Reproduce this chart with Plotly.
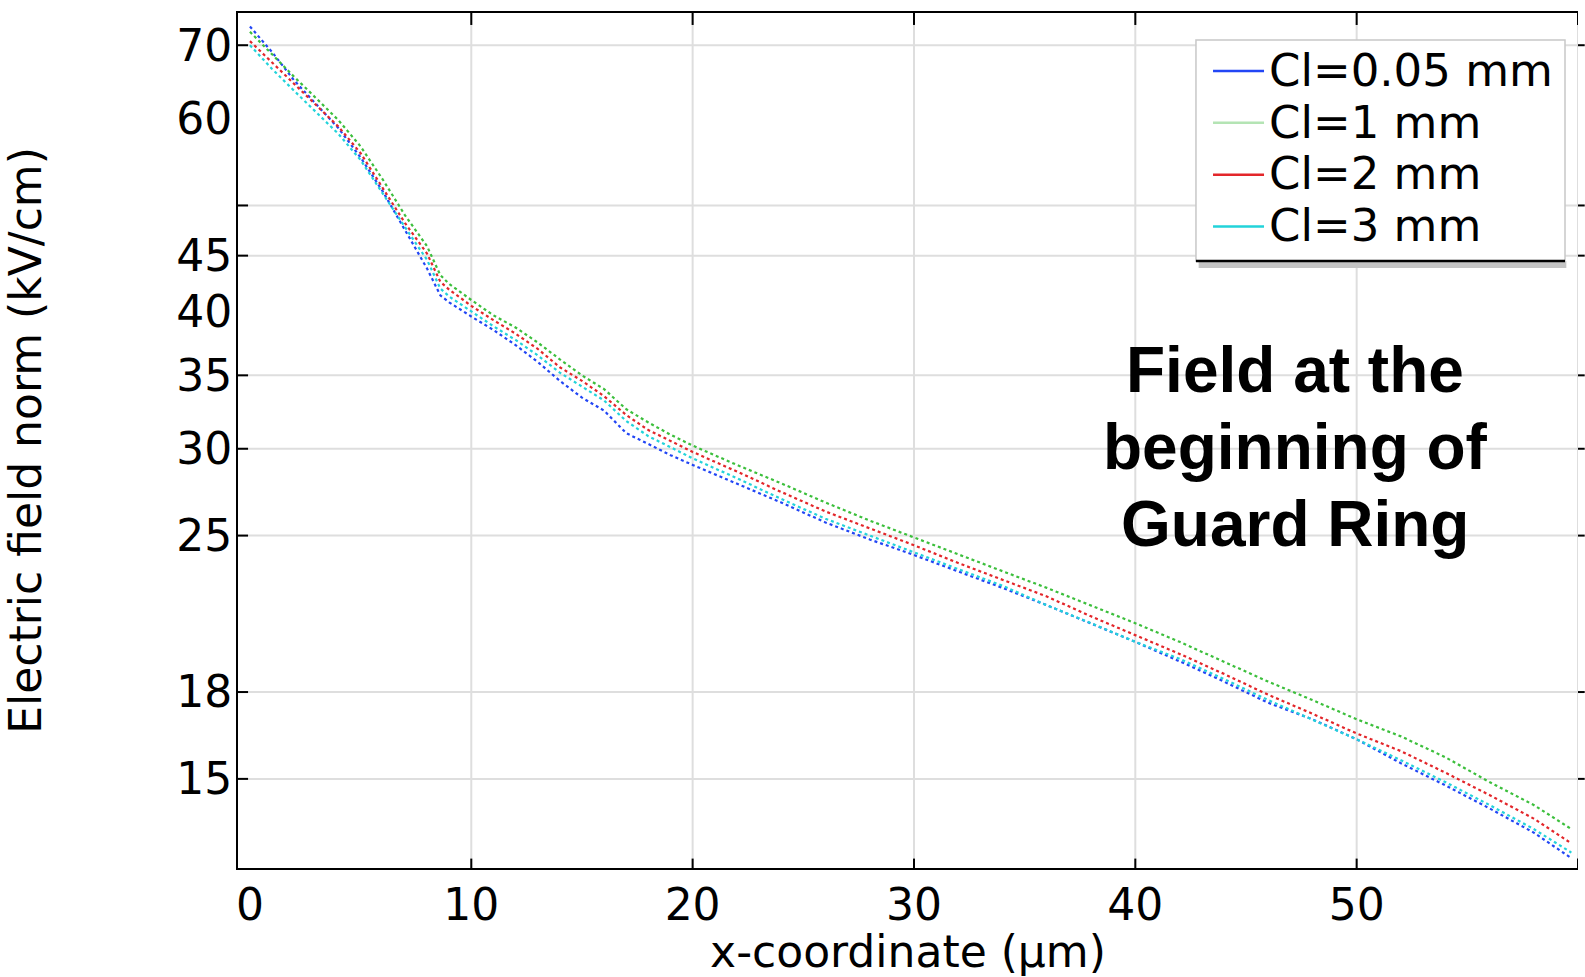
import math
import plotly.graph_objects as go

# Position along the surface (µm)
x_um = [0, 1, 2, 3, 4, 5, 6, 7, 8, 8.6, 9, 10, 11, 12, 13, 14, 15, 16, 17, 18, 19, 20,
        22, 24, 26, 28, 30, 32, 34, 36, 38, 40, 42, 44, 46, 48, 50, 52, 54, 56, 58, 59.7]

# Electric field norm (kV/cm) for each characteristic length
cl_005 = [72.8, 69.0, 65.0, 61.8, 58.8, 55.3, 51.5, 47.5, 43.8, 41.4, 40.8, 39.6, 38.5, 37.3,
          36.0, 34.6, 33.4, 32.5, 31.0, 30.3, 29.6, 29.0, 27.9, 26.8, 25.7, 24.8, 24.0, 23.2,
          22.4, 21.6, 20.8, 20.0, 19.2, 18.4, 17.6, 17.0, 16.3, 15.5, 14.8, 14.1, 13.4, 12.7]
cl_1 = [72.0, 68.6, 65.5, 62.6, 59.8, 56.6, 52.8, 49.0, 45.9, 43.2, 42.4, 41.0, 39.7, 38.7,
        37.5, 36.2, 35.0, 34.0, 32.6, 31.7, 30.9, 30.2, 29.0, 27.9, 26.8, 25.8, 24.9, 24.0,
        23.2, 22.4, 21.6, 20.8, 20.0, 19.2, 18.4, 17.7, 17.0, 16.4, 15.7, 14.9, 14.2, 13.5]
cl_2 = [70.6, 67.5, 64.5, 61.8, 59.0, 55.8, 51.8, 48.2, 45.2, 42.6, 41.9, 40.5, 39.3, 38.2,
        37.0, 35.6, 34.6, 33.5, 32.2, 31.2, 30.5, 29.8, 28.6, 27.4, 26.3, 25.4, 24.5, 23.6,
        22.8, 22.0, 21.1, 20.3, 19.5, 18.7, 17.9, 17.2, 16.5, 15.9, 15.2, 14.5, 13.8, 13.1]
cl_3 = [70.0, 66.6, 63.6, 60.8, 58.1, 55.0, 51.2, 47.8, 44.6, 42.0, 41.3, 40.0, 38.8, 37.7,
        36.5, 35.2, 34.2, 33.2, 31.8, 30.8, 30.1, 29.4, 28.2, 27.0, 25.9, 25.0, 24.1, 23.3,
        22.5, 21.6, 20.8, 20.0, 19.3, 18.5, 17.7, 17.0, 16.3, 15.6, 14.9, 14.2, 13.5, 12.85]

series_names = ["Cl=0.05 mm", "Cl=1 mm", "Cl=2 mm", "Cl=3 mm"]
series_values = [cl_005, cl_1, cl_2, cl_3]
line_colors = ["#2246f5", "#3cbf3c", "#e3262a", "#22d3da"]
legend_colors = ["#2246f5", "#b4e4b4", "#e3262a", "#22d3da"]

x_ticks = [0, 10, 20, 30, 40, 50]
x_grid = [10, 20, 30, 40, 50, 60]
y_ticks = [15, 18, 25, 30, 35, 40, 45, 60, 70]
y_grid = [15, 18, 25, 30, 35, 45, 50, 70]

x_range = [-0.54, 60.0]
y_range = [12.44, 74.9]

annotation_lines = ["Field at the", "beginning of", "Guard Ring"]
annotation_y = [0.5825, 0.4924, 0.4023]

fig = go.Figure()

for name, vals, col in zip(series_names, series_values, line_colors):
    fig.add_trace(go.Scatter(
        x=x_um, y=vals, mode="lines", name=name, legendgroup=name, showlegend=False,
        line=dict(color=col, width=2.2, dash="dot"),
    ))

# solid legend keys (text set larger than the row pitch of the legend font)
for name, col in zip(series_names, legend_colors):
    fig.add_trace(go.Scatter(
        x=[None], y=[None], mode="lines",
        name=f'<span style="font-size:45px">{name}</span>', legendgroup=name,
        line=dict(color=col, width=2.5),
    ))

grid_col = "#dedede"
shapes = []
for yv in y_grid:
    shapes.append(dict(type="line", xref="paper", yref="y", x0=0, x1=1, y0=yv, y1=yv,
                       line=dict(color=grid_col, width=2), layer="below"))
    # inner tick on the left, outer tick on the right
    shapes.append(dict(type="line", xref="paper", yref="y", x0=0, x1=0.0075, y0=yv, y1=yv,
                       line=dict(color="black", width=2), layer="above"))
    shapes.append(dict(type="line", xref="paper", yref="y", x0=1, x1=1.005, y0=yv, y1=yv,
                       line=dict(color="black", width=2), layer="above"))
for xv in x_grid:
    shapes.append(dict(type="line", xref="x", yref="paper", x0=xv, x1=xv, y0=0, y1=1,
                       line=dict(color=grid_col, width=2), layer="below"))
    shapes.append(dict(type="line", xref="x", yref="paper", x0=xv, x1=xv, y0=0, y1=0.011,
                       line=dict(color="black", width=2), layer="above"))
    shapes.append(dict(type="line", xref="x", yref="paper", x0=xv, x1=xv, y0=1, y1=0.986,
                       line=dict(color="black", width=2), layer="above"))

# legend box with shadowed lower edge
lx0, lx1, ly0, ly1 = 0.7149, 0.9903, 0.7099, 0.9684
shapes.append(dict(type="rect", xref="paper", yref="paper", x0=lx0 + 0.002, x1=lx1 + 0.001,
                   y0=ly0 - 0.008, y1=ly0, fillcolor="#c4c4c4", line=dict(width=0), layer="above"))
shapes.append(dict(type="rect", xref="paper", yref="paper", x0=lx0, x1=lx1, y0=ly0, y1=ly1,
                   fillcolor="white", line=dict(color="#c8c8c8", width=1.5), layer="above"))
shapes.append(dict(type="line", xref="paper", yref="paper", x0=lx0, x1=lx1, y0=ly0, y1=ly0,
                   line=dict(color="black", width=2.5), layer="above"))

tick_font = dict(family="DejaVu Sans", size=44, color="black")

fig.update_layout(
    width=1585, height=977,
    margin=dict(l=238, r=7, t=13, b=109, autoexpand=False),
    paper_bgcolor="white", plot_bgcolor="white",
    shapes=shapes,
    showlegend=True,
    legend=dict(
        x=lx0 + 0.009, y=ly1, xanchor="left", yanchor="top",
        bgcolor="rgba(0,0,0,0)", borderwidth=0,
        font=dict(family="DejaVu Sans", size=37.6, color="black"),
        itemwidth=51, tracegroupgap=0,
    ),
    xaxis=dict(
        range=x_range, tickvals=x_ticks, ticktext=[str(v) for v in x_ticks],
        showgrid=False, zeroline=False, ticks="", ticklabelstandoff=-3, automargin=False,
        showline=True, linecolor="black", linewidth=2, mirror=True,
        tickfont=tick_font,
        title=dict(text="x-coordinate (µm)", font=dict(family="DejaVu Sans", size=44, color="black"),
                   standoff=19),
    ),
    yaxis=dict(
        type="log", range=[math.log10(y_range[0]), math.log10(y_range[1])],
        tickvals=y_ticks, ticktext=[str(v) for v in y_ticks],
        showgrid=False, zeroline=False, ticks="", ticklabelstandoff=-5, automargin=False,
        showline=True, linecolor="black", linewidth=2, mirror=False,
        tickfont=tick_font,
        title=dict(text="Electric field norm (kV/cm)",
                   font=dict(family="DejaVu Sans", size=44, color="black"), standoff=132),
    ),
    annotations=[dict(
        text=line, xref="paper", yref="paper", x=0.789, y=yy, xanchor="center", yanchor="middle",
        showarrow=False, align="center",
        font=dict(family="Liberation Sans, Arial, sans-serif", size=64, color="black", weight="bold"),
    ) for line, yy in zip(annotation_lines, annotation_y)],
)

fig.write_html("out.html")
